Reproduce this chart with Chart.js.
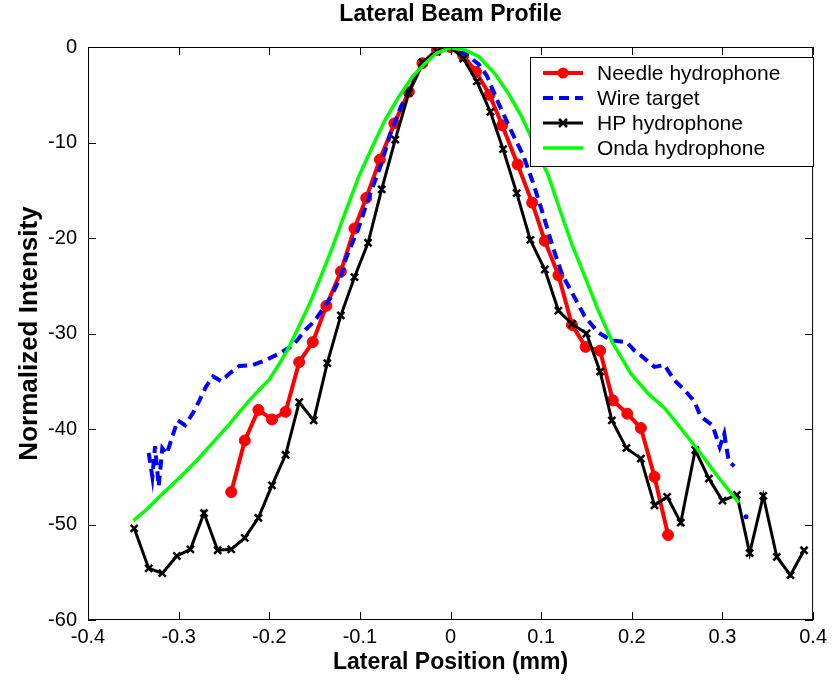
<!DOCTYPE html>
<html>
<head>
<meta charset="utf-8">
<script src="https://cdn.jsdelivr.net/npm/chart.js@4.4.1/dist/chart.umd.min.js"></script>
<style>
  html, body { margin: 0; padding: 0; background: #fff; }
</style>
</head>
<body>
<canvas id="c" width="832" height="689"></canvas>
<script>
// Axis ticks
const xTicks = [-0.4, -0.3, -0.2, -0.1, 0, 0.1, 0.2, 0.3, 0.4];
const yTicks = [-60, -50, -40, -30, -20, -10, 0];

// Needle hydrophone (red, circles)
const needleX = [-0.242, -0.227, -0.212, -0.197, -0.182, -0.167, -0.152, -0.137, -0.121, -0.106, -0.093, -0.078, -0.062, -0.046, -0.031, -0.015, 0, 0.014, 0.028, 0.043, 0.057, 0.074, 0.090, 0.104, 0.119, 0.134, 0.149, 0.165, 0.179, 0.195, 0.210, 0.225, 0.240];
const needleY = [-46.6, -41.2, -38.0, -39.0, -38.2, -33.0, -30.9, -27.1, -23.5, -19.0, -15.8, -11.8, -8.0, -4.7, -1.7, -0.3, 0, -0.9, -2.6, -5.0, -8.2, -12.3, -16.3, -20.3, -23.9, -29.1, -31.4, -31.8, -37.0, -38.4, -39.9, -45.0, -51.1];

// Wire target (blue, dashed) - null = gap before the last stray point
const wireX = [-0.333, -0.329, -0.326, -0.322, -0.318, -0.313, -0.306, -0.301, -0.293, -0.284, -0.277, -0.270, -0.262, -0.253, -0.244, -0.233, -0.218, -0.204, -0.189, -0.178, -0.170, -0.160, -0.150, -0.145, -0.132, -0.121, -0.116, -0.101, -0.090, -0.077, -0.066, -0.055, -0.044, -0.033, -0.020, 0, 0.016, 0.031, 0.040, 0.053, 0.068, 0.080, 0.091, 0.102, 0.113, 0.123, 0.135, 0.148, 0.163, 0.177, 0.194, 0.203, 0.210, 0.225, 0.236, 0.247, 0.258, 0.269, 0.276, 0.289, 0.297, 0.302, 0.307, 0.313, 0.320, 0.326];
const wireY = [-42.5, -45.0, -41.8, -46.0, -42.0, -42.6, -40.5, -39.1, -39.6, -38.3, -37.0, -35.6, -34.5, -35.0, -34.2, -33.4, -33.3, -32.8, -32.1, -31.5, -30.8, -29.6, -28.7, -28.0, -26.2, -24.0, -22.3, -18.8, -15.7, -12.4, -9.0, -6.3, -4.2, -2.1, -0.8, 0, -0.7, -1.8, -3.0, -5.9, -9.0, -11.3, -14.2, -17.5, -21.0, -23.8, -25.9, -28.2, -29.9, -30.7, -30.9, -31.8, -32.3, -33.5, -33.3, -34.9, -35.9, -37.1, -38.7, -39.6, -41.9, -40.5, -43.4, -43.9, null, -49.2];

// HP hydrophone (black, x markers)
const hpX = [-0.349, -0.333, -0.318, -0.302, -0.287, -0.272, -0.257, -0.242, -0.227, -0.212, -0.197, -0.182, -0.167, -0.151, -0.136, -0.121, -0.106, -0.091, -0.076, -0.061, -0.046, -0.031, -0.015, 0, 0.014, 0.029, 0.044, 0.058, 0.073, 0.088, 0.104, 0.119, 0.134, 0.150, 0.165, 0.178, 0.194, 0.210, 0.225, 0.239, 0.254, 0.270, 0.285, 0.300, 0.316, 0.330, 0.345, 0.360, 0.375, 0.390];
const hpY = [-50.4, -54.6, -55.1, -53.3, -52.6, -48.8, -52.7, -52.6, -51.4, -49.3, -45.9, -42.7, -37.2, -39.1, -33.1, -28.1, -24.1, -20.5, -14.9, -9.7, -4.8, -1.6, -0.5, 0, -1.2, -3.6, -6.8, -10.7, -15.3, -20.2, -23.3, -27.6, -29.0, -30.0, -34.0, -39.1, -42.0, -43.1, -48.0, -47.1, -49.8, -42.2, -45.2, -47.5, -46.9, -53.0, -47.0, -53.4, -55.3, -52.7];

// Onda hydrophone (green)
const ondaX = [-0.350, -0.335, -0.317, -0.299, -0.280, -0.262, -0.244, -0.222, -0.200, -0.189, -0.178, -0.167, -0.156, -0.145, -0.130, -0.116, -0.101, -0.086, -0.072, -0.057, -0.042, -0.028, -0.015, 0, 0.016, 0.031, 0.049, 0.064, 0.079, 0.093, 0.108, 0.119, 0.134, 0.148, 0.163, 0.179, 0.199, 0.218, 0.236, 0.254, 0.273, 0.295, 0.318];
const ondaY = [-49.6, -48.4, -46.7, -45.1, -43.3, -41.4, -39.5, -37.0, -34.8, -33.2, -31.4, -29.2, -27.0, -24.5, -20.9, -17.3, -13.5, -10.4, -7.6, -5.2, -3.1, -1.7, -0.6, -0.1, -0.3, -1.0, -2.8, -4.9, -7.4, -10.3, -13.5, -16.6, -20.7, -24.0, -27.6, -31.0, -34.2, -36.3, -37.8, -39.9, -42.2, -45.0, -47.7];

const pts = (xs, ys) => xs.map((v, i) => ({ x: v, y: ys[i] }));

const FONT = '"Liberation Sans", Arial, sans-serif';

// Cadre + graduations intérieures + légende dans le graphique
const cadrePlugin = {
    id: 'cadre',
    afterDatasetsDraw(chart) {
        const { ctx, chartArea: a, scales: { x, y } } = chart;
        ctx.save();
        ctx.strokeStyle = '#000';
        ctx.lineWidth = 1;
        ctx.setLineDash([]);
        ctx.strokeRect(a.left + 0.5, a.top + 0.5, a.width - 1, a.height - 1);

        const len = 8;
        ctx.beginPath();
        xTicks.forEach(v => {
            const px = Math.round(x.getPixelForValue(v)) + 0.5;
            ctx.moveTo(px, a.bottom); ctx.lineTo(px, a.bottom - len);
            ctx.moveTo(px, a.top); ctx.lineTo(px, a.top + len);
        });
        yTicks.forEach(v => {
            const py = Math.round(y.getPixelForValue(v)) + 0.5;
            ctx.moveTo(a.left, py); ctx.lineTo(a.left + len, py);
            ctx.moveTo(a.right, py); ctx.lineTo(a.right - len, py);
        });
        ctx.stroke();

        // Légende
        const bx = 530, by = 57, bw = 283, bh = 109;
        ctx.fillStyle = '#fff';
        ctx.fillRect(bx, by, bw, bh);
        ctx.strokeRect(bx + 0.5, by + 0.5, bw, bh);
        ctx.font = '21px ' + FONT;
        ctx.textBaseline = 'middle';
        chart.data.datasets.forEach((ds, i) => {
            const ly = 73 + i * 25;
            ctx.strokeStyle = ds.borderColor;
            ctx.lineWidth = ds.borderWidth;
            ctx.setLineDash(ds.borderDash || []);
            ctx.beginPath();
            ctx.moveTo(543, ly); ctx.lineTo(583, ly);
            ctx.stroke();
            ctx.setLineDash([]);
            if (ds.legendMarker === 'circle') {
                ctx.fillStyle = ds.borderColor;
                ctx.beginPath(); ctx.arc(563, ly, 5.5, 0, Math.PI * 2); ctx.fill();
            } else if (ds.legendMarker === 'cross') {
                ctx.lineWidth = 2.5;
                ctx.beginPath();
                ctx.moveTo(559, ly - 4); ctx.lineTo(567, ly + 4);
                ctx.moveTo(559, ly + 4); ctx.lineTo(567, ly - 4);
                ctx.stroke();
            }
            ctx.fillStyle = '#000';
            ctx.fillText(ds.label, 597, ly + 1);
        });
        ctx.restore();
    }
};

new Chart(document.getElementById('c'), {
    type: 'line',
    data: {
        datasets: [
            {
                label: 'Needle hydrophone',
                data: pts(needleX, needleY),
                borderColor: '#ff0000',
                backgroundColor: '#ff0000',
                borderWidth: 4,
                pointStyle: 'circle',
                pointRadius: 5.5,
                pointBorderWidth: 1,
                legendMarker: 'circle',
                order: 4
            },
            {
                label: 'Wire target',
                data: pts(wireX, wireY),
                borderColor: '#0000ff',
                backgroundColor: '#0000ff',
                borderWidth: 4,
                borderDash: [10, 6],
                pointRadius: c => (c.dataIndex === wireX.length - 1 ? 2.5 : 0),
                pointBorderWidth: 0,
                spanGaps: false,
                order: 3
            },
            {
                label: 'HP hydrophone',
                data: pts(hpX, hpY),
                borderColor: '#000000',
                backgroundColor: '#000000',
                borderWidth: 3,
                pointStyle: 'crossRot',
                pointRadius: 5,
                pointBorderWidth: 2.5,
                legendMarker: 'cross',
                order: 2
            },
            {
                label: 'Onda hydrophone',
                data: pts(ondaX, ondaY),
                borderColor: '#00ff00',
                backgroundColor: '#00ff00',
                borderWidth: 3.5,
                pointRadius: 0,
                order: 1
            }
        ]
    },
    options: {
        responsive: false,
        animation: false,
        devicePixelRatio: 1,
        layout: { padding: { left: 0, right: 17, top: 0, bottom: 0 } },
        elements: { line: { tension: 0, fill: false } },
        plugins: {
            legend: { display: false },
            tooltip: { enabled: false },
            title: {
                display: true,
                fullSize: false,
                text: 'Lateral Beam Profile',
                color: '#000',
                font: { family: FONT, size: 23, weight: 'bold', lineHeight: 1.2 },
                padding: { top: 0.5, bottom: 18.9 }
            }
        },
        scales: {
            x: {
                type: 'linear',
                min: -0.4,
                max: 0.4,
                afterBuildTicks: s => { s.ticks = xTicks.map(v => ({ value: v })); },
                afterFit: s => { s.height = 69; },
                grid: { display: false, drawTicks: false },
                border: { display: false },
                ticks: {
                    color: '#000',
                    padding: 5,
                    maxRotation: 0,
                    autoSkip: false,
                    font: { family: FONT, size: 20 },
                    callback: v => (v === 0 ? '0' : String(v))
                },
                title: {
                    display: true,
                    text: 'Lateral Position (mm)',
                    color: '#000',
                    font: { family: FONT, size: 23, weight: 'bold', lineHeight: 1.2 },
                    padding: { top: 0, bottom: 13 }
                }
            },
            y: {
                type: 'linear',
                min: -60,
                max: 0,
                afterBuildTicks: s => { s.ticks = yTicks.map(v => ({ value: v })); },
                afterFit: s => { s.width = 88; },
                grid: { display: false, drawTicks: false },
                border: { display: false },
                ticks: {
                    color: '#000',
                    padding: 11,
                    autoSkip: false,
                    font: { family: FONT, size: 20 }
                },
                title: {
                    display: true,
                    text: 'Normalized Intensity',
                    color: '#000',
                    font: { family: FONT, size: 26, weight: 'bold', lineHeight: 1.2 },
                    padding: { top: 14, bottom: 0 }
                }
            }
        }
    },
    plugins: [cadrePlugin]
});
</script>
</body>
</html>
